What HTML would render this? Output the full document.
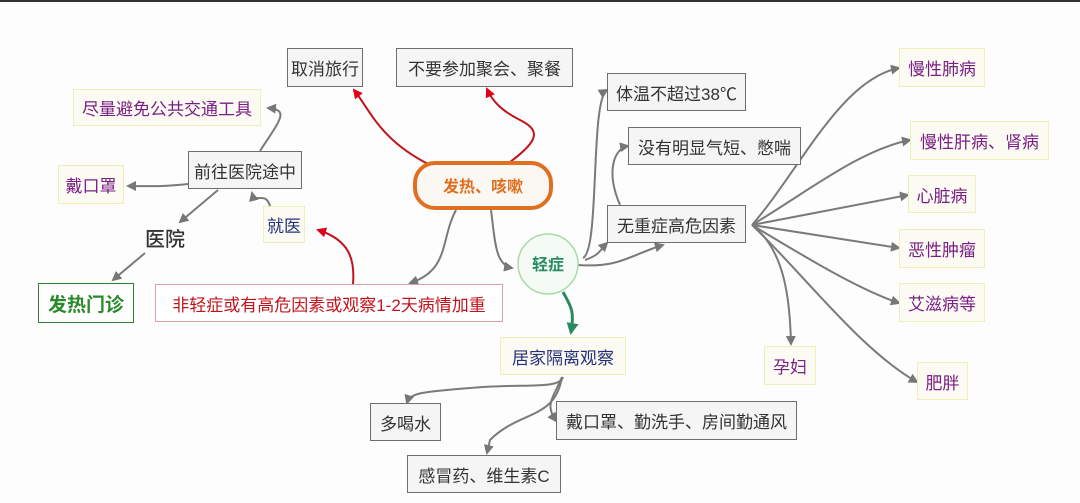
<!DOCTYPE html>
<html><head><meta charset="utf-8"><style>
html,body{margin:0;padding:0;}
body{width:1080px;height:503px;background:#fdfdfd;position:relative;overflow:hidden;font-family:"Liberation Sans","Noto Sans CJK SC",sans-serif;}
.top{position:absolute;left:0;top:0;width:1080px;height:2px;background:#333;}
.b{position:absolute;box-sizing:border-box;border:1.5px solid #6e6e6e;background:#f5f5f5;color:#333;font-size:17px;display:flex;align-items:center;justify-content:center;white-space:nowrap;overflow:hidden;}
.y{border:1.5px solid #eef0b8;background:#fbfbf3;color:#7b1f86;}
svg{position:absolute;left:0;top:0;}
</style></head><body>
<div class="top"></div>
<svg width="1080" height="503" viewBox="0 0 1080 503">
<defs>
<marker id="g" markerWidth="10" markerHeight="10" refX="8" refY="5" orient="auto" markerUnits="userSpaceOnUse"><path d="M0,0 L10,5 L0,10 z" fill="#777"/></marker>
<marker id="r" markerWidth="10" markerHeight="10" refX="8" refY="5" orient="auto" markerUnits="userSpaceOnUse"><path d="M0,0 L10,5 L0,10 z" fill="#e0001a"/></marker>
<marker id="gr" markerWidth="12" markerHeight="12" refX="9" refY="6" orient="auto" markerUnits="userSpaceOnUse"><path d="M0,0 L12,6 L0,12 z" fill="#2a8a60"/></marker>
</defs>
<g fill="none" stroke="#7a7a7a" stroke-width="2" marker-end="url(#g)">
<path d="M260,151 C280,120 290,110 268,108"/>
<path d="M188,184 C160,187 150,186 128,186"/>
<path d="M218,190 L180,222"/>
<path d="M145,253 L113,280"/>
<path d="M270,206 C265,190 255,205 252,193"/>
<path d="M456,210 C440,240 450,270 410,283"/>
<path d="M491,210 C495,240 495,265 512,268"/>
<path d="M583,258 C600,250 590,100 607,90"/>
<path d="M620,205 C605,170 615,148 628,146"/>
<path d="M578,265 C620,268 630,255 663,245"/>
<path d="M585,260 C600,255 600,250 607,243"/>
<path d="M752,225 C800,170 840,80 899,68"/>
<path d="M752,225 C810,190 860,150 910,140"/>
<path d="M752,225 L908,195"/>
<path d="M752,225 L899,248"/>
<path d="M752,225 C810,260 860,290 899,303"/>
<path d="M752,225 C785,250 790,300 791,344"/>
<path d="M752,225 C800,270 860,350 917,382"/>
<path d="M563,377 C560,390 520,383 470,388 C420,392 410,393 407,403"/>
<path d="M562,377 C555,420 520,410 490,440 L487,453"/>
<path d="M562,377 C552,400 545,405 556,421"/>
</g>
<g fill="none" stroke="#c0141c" stroke-width="2" marker-end="url(#r)">
<path d="M430,165 C380,140 370,110 354,90"/>
<path d="M510,162 C540,140 540,130 520,120 C500,110 492,100 487,89"/>
<path d="M353,284 C355,260 350,240 318,230"/>
</g>
<path d="M563,292 C570,305 575,310 571,332" fill="none" stroke="#2a8a60" stroke-width="3" marker-end="url(#gr)"/>
<rect x="415" y="163" width="136" height="45" rx="20" fill="#fbf7f2" stroke="#e07020" stroke-width="4"/>
<text x="483" y="192" text-anchor="middle" font-size="16" font-weight="bold" fill="#e07020" font-family="Liberation Sans, Noto Sans CJK SC, sans-serif">发热、咳嗽</text>
<circle cx="548" cy="264" r="30" fill="#f4faf4" stroke="#a8dca8" stroke-width="1.5"/>
<text x="548" y="270" text-anchor="middle" font-size="16" font-weight="bold" fill="#2a8a60" font-family="Liberation Sans, Noto Sans CJK SC, sans-serif">轻症</text>
<text x="165" y="246" text-anchor="middle" font-size="20" font-weight="500" fill="#333" font-family="Liberation Sans, Noto Sans CJK SC, sans-serif">医院</text>
</svg>
<div class="b" style="left:287px;top:48px;width:76px;height:39px;">取消旅行</div>
<div class="b" style="left:396px;top:48px;width:177px;height:39px;">不要参加聚会、聚餐</div>
<div class="b y" style="left:73px;top:89px;width:188px;height:37px;">尽量避免公共交通工具</div>
<div class="b" style="left:188px;top:151px;width:114px;height:38px;">前往医院途中</div>
<div class="b y" style="left:58px;top:165px;width:66px;height:39px;">戴口罩</div>
<div class="b y" style="left:263px;top:206px;width:42px;height:37px;color:#26307a;">就医</div>
<div class="b" style="left:38px;top:283px;width:96px;height:40px;border-color:#2f7d2f;background:#fff;color:#2a8a2a;font-weight:bold;font-size:19px;">发热门诊</div>
<div class="b" style="left:155px;top:284px;width:348px;height:38px;border-color:#d8a0a0;background:#fff;color:#c0141c;">非轻症或有高危因素或观察1-2天病情加重</div>
<div class="b y" style="left:500px;top:337px;width:126px;height:38px;color:#26307a;">居家隔离观察</div>
<div class="b" style="left:370px;top:403px;width:71px;height:38px;">多喝水</div>
<div class="b" style="left:556px;top:401px;width:241px;height:39px;">戴口罩、勤洗手、房间勤通风</div>
<div class="b" style="left:407px;top:455px;width:154px;height:38px;">感冒药、维生素C</div>
<div class="b" style="left:607px;top:73px;width:139px;height:38px;">体温不超过38℃</div>
<div class="b" style="left:628px;top:127px;width:173px;height:38px;">没有明显气短、憋喘</div>
<div class="b" style="left:607px;top:205px;width:139px;height:38px;">无重症高危因素</div>
<div class="b y" style="left:899px;top:48px;width:86px;height:39px;">慢性肺病</div>
<div class="b y" style="left:910px;top:121px;width:139px;height:39px;justify-content:flex-start;padding-left:9px;">慢性肝病、肾病</div>
<div class="b y" style="left:908px;top:175px;width:68px;height:38px;">心脏病</div>
<div class="b y" style="left:899px;top:229px;width:86px;height:39px;">恶性肿瘤</div>
<div class="b y" style="left:899px;top:283px;width:86px;height:39px;">艾滋病等</div>
<div class="b y" style="left:764px;top:346px;width:52px;height:39px;">孕妇</div>
<div class="b y" style="left:917px;top:362px;width:51px;height:38px;">肥胖</div>
</body></html>
